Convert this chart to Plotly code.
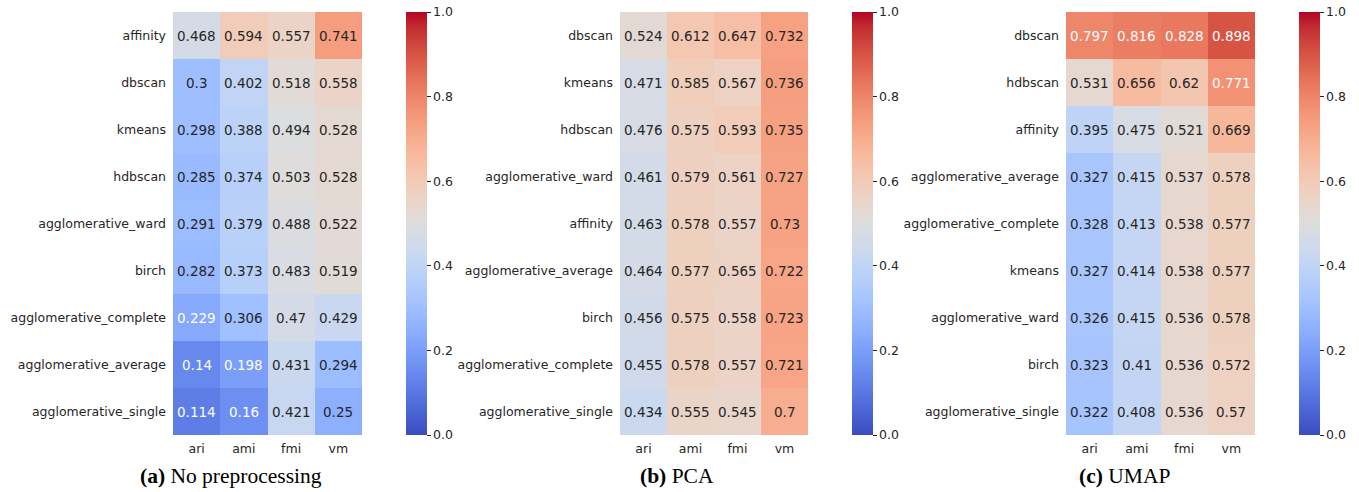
import plotly.graph_objects as go

metrics = ["ari", "ami", "fmi", "vm"]

algos_a = ["affinity", "dbscan", "kmeans", "hdbscan", "agglomerative_ward", "birch",
           "agglomerative_complete", "agglomerative_average", "agglomerative_single"]
vals_a = [
    [0.468, 0.594, 0.557, 0.741],
    [0.3, 0.402, 0.518, 0.558],
    [0.298, 0.388, 0.494, 0.528],
    [0.285, 0.374, 0.503, 0.528],
    [0.291, 0.379, 0.488, 0.522],
    [0.282, 0.373, 0.483, 0.519],
    [0.229, 0.306, 0.47, 0.429],
    [0.14, 0.198, 0.431, 0.294],
    [0.114, 0.16, 0.421, 0.25],
]

algos_b = ["dbscan", "kmeans", "hdbscan", "agglomerative_ward", "affinity",
           "agglomerative_average", "birch", "agglomerative_complete", "agglomerative_single"]
vals_b = [
    [0.524, 0.612, 0.647, 0.732],
    [0.471, 0.585, 0.567, 0.736],
    [0.476, 0.575, 0.593, 0.735],
    [0.461, 0.579, 0.561, 0.727],
    [0.463, 0.578, 0.557, 0.73],
    [0.464, 0.577, 0.565, 0.722],
    [0.456, 0.575, 0.558, 0.723],
    [0.455, 0.578, 0.557, 0.721],
    [0.434, 0.555, 0.545, 0.7],
]

algos_c = ["dbscan", "hdbscan", "affinity", "agglomerative_average", "agglomerative_complete",
           "kmeans", "agglomerative_ward", "birch", "agglomerative_single"]
vals_c = [
    [0.797, 0.816, 0.828, 0.898],
    [0.531, 0.656, 0.62, 0.771],
    [0.395, 0.475, 0.521, 0.669],
    [0.327, 0.415, 0.537, 0.578],
    [0.328, 0.413, 0.538, 0.577],
    [0.327, 0.414, 0.538, 0.577],
    [0.326, 0.415, 0.536, 0.578],
    [0.323, 0.41, 0.536, 0.572],
    [0.322, 0.408, 0.536, 0.57],
]

captions = ["<b>(a)</b> No preprocessing", "<b>(b)</b> PCA", "<b>(c)</b> UMAP"]

# coolwarm (Moreland) colour table
cw = [
    (59, 76, 192), (68, 90, 204), (77, 104, 215), (87, 117, 225), (98, 130, 234),
    (108, 142, 241), (119, 154, 247), (130, 165, 251), (141, 176, 254), (152, 185, 255),
    (163, 194, 255), (174, 201, 253), (184, 208, 249), (194, 213, 244), (204, 217, 238),
    (213, 219, 230), (221, 221, 221), (229, 216, 209), (236, 211, 197), (241, 204, 185),
    (245, 196, 173), (247, 187, 160), (247, 177, 148), (247, 166, 135), (244, 154, 123),
    (241, 141, 111), (236, 127, 99), (229, 112, 88), (222, 96, 77), (213, 80, 66),
    (203, 62, 56), (192, 40, 47), (180, 4, 38),
]
n = len(cw) - 1
colorscale = [[i / n, "rgb(%d,%d,%d)" % c] for i, c in enumerate(cw)]


def color_at(v):
    p = max(0.0, min(1.0, v)) * n
    i = min(int(p), n - 1)
    f = p - i
    return tuple(cw[i][k] + (cw[i + 1][k] - cw[i][k]) * f for k in range(3))


def lum(rgb):
    out = []
    for c in rgb:
        c = c / 255
        out.append(c / 12.92 if c <= 0.03928 else ((c + 0.055) / 1.055) ** 2.4)
    return 0.2126 * out[0] + 0.7152 * out[1] + 0.0722 * out[2]


W, H = 1359, 492
hm_x = [(173, 362), (620, 808), (1066, 1255)]
cb_x = [406, 852, 1299]
cap_x = [231, 677, 1124]
top, bottom = 12, 435
ydom = [1 - bottom / H, 1 - top / H]

fig = go.Figure()
panels = [(algos_a, vals_a), (algos_b, vals_b), (algos_c, vals_c)]
annotations = []
tickfont = dict(family="DejaVu Sans", size=12.5, color="#262626")
for k, (algos, vals) in enumerate(panels):
    ax = "" if k == 0 else str(k + 1)
    fig.add_trace(go.Heatmap(
        z=vals, x=metrics, y=algos, xaxis="x" + ax, yaxis="y" + ax,
        colorscale=colorscale, zmin=0, zmax=1, xgap=0, ygap=0,
        colorbar=dict(
            x=cb_x[k] / W, xanchor="left", y=ydom[0], yanchor="bottom",
            len=ydom[1] - ydom[0], lenmode="fraction", thickness=21, thicknessmode="pixels",
            xpad=0, ypad=0, outlinewidth=0, tickvals=[0, 0.2, 0.4, 0.6, 0.8, 1.0],
            ticktext=["0.0", "0.2", "0.4", "0.6", "0.8", "1.0"],
            ticks="outside", ticklen=4, tickwidth=1, tickcolor="#262626",
            tickfont=tickfont,
        ),
    ))
    fig.layout["xaxis" + ax] = dict(
        domain=[hm_x[k][0] / W, hm_x[k][1] / W], anchor="y" + ax,
        tickfont=tickfont, ticks="", showgrid=False, zeroline=False, showline=False,
        ticklabelstandoff=4,
    )
    fig.layout["yaxis" + ax] = dict(
        domain=ydom, anchor="x" + ax, autorange="reversed",
        tickfont=tickfont, ticks="", showgrid=False, zeroline=False, showline=False,
        ticklabelstandoff=6,
    )
    for r, a in enumerate(algos):
        for c, m in enumerate(metrics):
            v = vals[r][c]
            tc = "#262626" if lum(color_at(v)) > 0.43 else "white"
            annotations.append(dict(
                x=m, y=a, xref="x" + ax, yref="y" + ax, text=f"{v:.3g}", showarrow=False,
                font=dict(family="DejaVu Sans", size=13.5, color=tc),
            ))
    annotations.append(dict(
        x=cap_x[k] / W, y=1 - 476 / H, xref="paper", yref="paper", xanchor="center",
        yanchor="middle", text=captions[k], showarrow=False,
        font=dict(family="Liberation Serif", size=21.5, color="black"),
    ))

fig.update_layout(
    width=W, height=H, margin=dict(l=0, r=0, t=0, b=0),
    paper_bgcolor="white", plot_bgcolor="white", annotations=annotations,
    showlegend=False,
)
fig.write_html(
    "out.html",
    config={"displayModeBar": False},
    post_script="document.body.style.margin='0';document.body.style.overflow='hidden';",
)
